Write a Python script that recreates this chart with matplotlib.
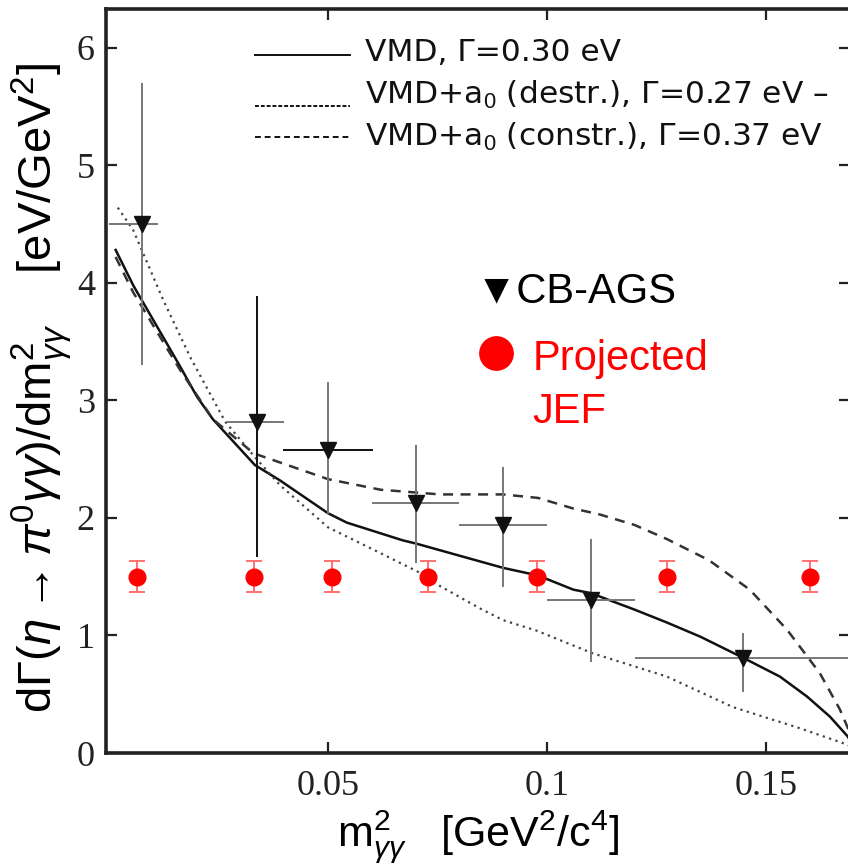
import matplotlib
matplotlib.use("Agg")
from matplotlib import pyplot as plt
import numpy as np

outputFileName = "out.png"

# theory curves
x_vmd = [0.0015, 0.0055, 0.0162, 0.0201, 0.0237, 0.0333, 0.039, 0.050, 0.0543, 0.067,
         0.0703, 0.0847, 0.090, 0.098, 0.106, 0.110, 0.120, 0.1274, 0.135, 0.1448,
         0.1532, 0.1594, 0.1646, 0.1687, 0.1700]
y_vmd = [4.28, 3.98, 3.29, 3.03, 2.84, 2.45, 2.32, 2.04, 1.96, 1.81,
         1.78, 1.63, 1.575, 1.51, 1.39, 1.36, 1.22, 1.11, 0.99, 0.81,
         0.65, 0.48, 0.31, 0.14, 0.05]

x_constr = [0.0015, 0.0055, 0.0162, 0.0237, 0.033, 0.050, 0.062, 0.0756, 0.0847, 0.090,
            0.098, 0.106, 0.112, 0.120, 0.1274, 0.137, 0.1463, 0.1548, 0.1623, 0.1669, 0.1700]
y_constr = [4.22, 3.92, 3.26, 2.84, 2.55, 2.33, 2.24, 2.20, 2.20, 2.20,
            2.17, 2.08, 2.03, 1.94, 1.82, 1.64, 1.39, 1.05, 0.68, 0.37, 0.10]

x_destr = [0.002, 0.0055, 0.0123, 0.0185, 0.0265, 0.033, 0.039, 0.050, 0.062, 0.0728,
           0.0756, 0.0847, 0.090, 0.0977, 0.1103, 0.1274, 0.1425, 0.1578, 0.1687, 0.1700]
y_destr = [4.64, 4.45, 3.86, 3.37, 2.82, 2.53, 2.28, 1.92, 1.70, 1.50,
           1.42, 1.23, 1.13, 1.04, 0.85, 0.65, 0.39, 0.21, 0.07, 0.03]

# CB-AGS data
ags_x = [0.0075, 0.0338, 0.050, 0.070, 0.090, 0.110, 0.1448]
ags_y = [4.50, 2.82, 2.58, 2.13, 1.94, 1.30, 0.81]
ags_xlo = [0.0075, 0.0068, 0.0103, 0.010, 0.010, 0.010, 0.0248]
ags_xhi = [0.0037, 0.0062, 0.0103, 0.010, 0.010, 0.010, 0.0252]
ags_ylo = [1.20, 1.15, 0.55, 0.51, 0.53, 0.53, 0.29]
ags_yhi = [1.20, 1.07, 0.58, 0.49, 0.49, 0.52, 0.21]
ags_xcol = ["#777777", "#777777", "#111111", "#777777", "#777777", "#777777", "#777777"]
ags_ycol = ["#777777", "#111111", "#777777", "#777777", "#777777", "#777777", "#777777"]

# projected JEF points
jef_x = [0.0064, 0.0331, 0.0509, 0.0728, 0.0977, 0.1274, 0.160]
jef_y = [1.5, 1.5, 1.5, 1.5, 1.5, 1.5, 1.5]
jef_err = [0.13, 0.13, 0.13, 0.13, 0.13, 0.13, 0.13]

legend_labels = ["VMD, \u0393=0.30 eV",
                 "VMD+a$_0$ (destr.), \u0393=0.27 eV \u2013",
                 "VMD+a$_0$ (constr.), \u0393=0.37 eV"]

plt.rcParams["mathtext.fontset"] = "custom"
plt.rcParams["mathtext.rm"] = "Liberation Sans"
plt.rcParams["mathtext.it"] = "Liberation Sans:italic"
plt.rcParams["mathtext.bf"] = "Liberation Sans:bold"

fig = plt.figure(figsize=(8.48, 8.65), dpi=100)
ax = fig.add_axes([106/848, 112/865, 744/848, 744/865])

ax.plot(x_vmd, y_vmd, "-", color="#111111", lw=1.8)
ax.plot(x_constr, y_constr, color="#333333", lw=1.8, linestyle=(0, (4, 3)))
ax.plot(x_destr, y_destr, color="#444444", lw=1.6, linestyle=(0, (1, 2)))

for i in range(len(ags_x)):
    ax.errorbar(ags_x[i], ags_y[i], xerr=[[ags_xlo[i]], [ags_xhi[i]]],
                fmt="none", ecolor=ags_xcol[i], elinewidth=1.4)
    ax.errorbar(ags_x[i], ags_y[i], yerr=[[ags_ylo[i]], [ags_yhi[i]]],
                fmt="none", ecolor=ags_ycol[i], elinewidth=1.4)
ax.plot(ags_x, ags_y, "v", color="#111111", ms=12, zorder=5)

ax.errorbar(jef_x, jef_y, yerr=jef_err, fmt="o", color="#ff0000", ms=12,
            ecolor="#ff7070", elinewidth=1.4, capsize=6, capthick=1.4, zorder=6)

ax.set_xlim(-0.0007, 0.1692)
ax.set_ylim(0, 6.33)
ax.set_xticks([0.05, 0.1, 0.15])
ax.set_xticklabels(["0.05", "0.1", "0.15"])
ax.set_yticks([0, 1, 2, 3, 4, 5, 6])
ax.tick_params(direction="in", top=True, right=True, length=8, width=1.6,
               labelsize=26, colors="#222222")
ax.tick_params(axis="x", pad=12)
ax.tick_params(axis="y", pad=8)
for lab in ax.get_xticklabels() + ax.get_yticklabels():
    lab.set_fontfamily("Liberation Serif")
for s in ["left", "bottom", "top", "right"]:
    ax.spines[s].set_linewidth(2.6)
    ax.spines[s].set_color("#222222")

# legend of the curves
narrow = ["Liberation Sans Narrow", "DejaVu Sans"]
leg_styles = ["-", (0, (2, 1)), (0, (3, 2))]
leg_y = [0.942, 0.884, 0.828]
leg_line_y = [0.938, 0.870, 0.828]
for i in range(3):
    ax.plot([0.200, 0.328], [leg_line_y[i], leg_line_y[i]], transform=ax.transAxes,
            color="#111111", lw=1.4, linestyle=leg_styles[i])
    ax.text(0.348, leg_y[i], legend_labels[i], transform=ax.transAxes,
            fontsize=22.5, va="center", ha="left", family=narrow, color="#111111")

sans = ["Liberation Sans", "DejaVu Sans"]
ax.text(0.497, 0.606, "\u25bcCB-AGS", transform=ax.transAxes, fontsize=30,
        family=sans, color="black", va="baseline")
ax.plot([0.524], [0.538], "o", color="#ff0000", ms=24, transform=ax.transAxes,
        clip_on=False)
ax.text(0.573, 0.515, "Projected", transform=ax.transAxes, fontsize=30,
        family=sans, color="#ff0000", va="baseline")
ax.text(0.573, 0.444, "JEF", transform=ax.transAxes, fontsize=30,
        family=sans, color="#ff0000", va="baseline")

fig.text(42/848, 1 - 388/865,
         r"d$\Gamma$($\eta\rightarrow\pi^{0}\gamma\gamma$)/dm$^{2}_{\gamma\gamma}$    [eV/GeV$^{2}$]",
         rotation=90, fontsize=34, family=sans, ha="center", va="center")
fig.text(478/848, 1 - 846/865,
         r"m$^{2}_{\gamma\gamma}$   [GeV$^{2}$/c$^{4}$]",
         fontsize=31, family=sans, ha="center", va="baseline")

plt.savefig(outputFileName, dpi=100)
plt.close()
